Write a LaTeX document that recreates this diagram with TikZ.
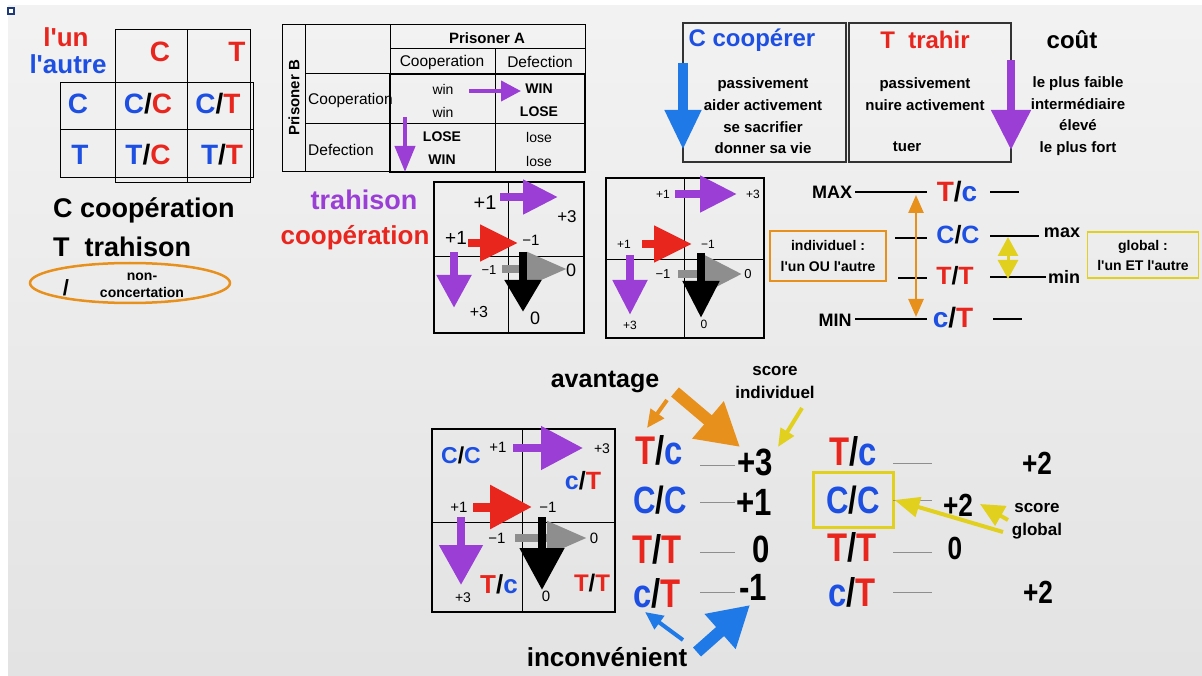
\documentclass[tikz,border=0pt]{standalone}
\usepackage{fontspec}
\setmainfont{Liberation Sans}
\newfontfamily\narrowsf{Liberation Sans}[FakeStretch=0.82]
\usetikzlibrary{arrows.meta}
\definecolor{tred}{HTML}{E8261E}
\definecolor{tblue}{HTML}{1D4FE2}
\definecolor{tpurple}{HTML}{9A3ED6}
\definecolor{torange}{HTML}{E8901C}
\definecolor{tyellow}{HTML}{E2D01E}
\definecolor{tgrey}{HTML}{8E8E8E}
\definecolor{tsky}{HTML}{1F7AE8}
\definecolor{tnavy}{HTML}{1F3A78}
\newcommand\fs[1]{\fontsize{#1}{#1}\selectfont}
\newcommand\duo[4]{\textcolor{#1}{#2}/\textcolor{#3}{#4}}
\newcommand\apos{\textquotesingle}
\tikzset{
 tx/.style={inner sep=0pt,font=\bfseries\fs{#1}},
 rg/.style={inner sep=0pt,font=\fs{#1}},
 nw/.style={inner sep=0pt,font=\narrowsf\bfseries\fs{#1}},
 txl/.style 2 args={inner sep=0pt,align=center,font=\bfseries\fontsize{#1}{#2}\selectfont},
 fat/.style n args={3}{line width=#1,-{Triangle[length=#2,width=#3]}},
 gridframe/.style={line width=2pt},
 gridline/.style={line width=0.8pt},
 bar/.style={line width=2.5pt},
 dash line/.style={tgrey,line width=1pt},
}
\begin{document}
\begin{tikzpicture}[x=1pt,y=-1pt]
\useasboundingbox (0,0) rectangle (1202,676);
%background
\shade[top color=black!5,bottom color=black!11] (8,6) rectangle (1202,676);
\draw[tnavy,line width=1.5pt,fill=white] (8,8) rectangle (14,14);

%l'un / l'autre table
\draw[line width=1pt] (115,30) rectangle (250,183) (60,83) rectangle (253,178) (60,130) -- (253,130) (187,30) -- (187,183);
\node[tx=26,tred] (un) at (66,37) {l\apos un};
\node[tx=26,tblue] (autre) at (68,64) {l\apos autre};
\node[tx=28,tred] (cA) at (160,52) {C};
\node[tx=28,tred] (tA) at (237,52) {T};
\node[tx=28,tblue] (cB) at (78,104) {C};
\node[tx=28] (cc) at (148,104) {\duo{tblue}{C}{tred}{C}};
\node[tx=28] (ct) at (218,104) {\duo{tblue}{C}{tred}{T}};
\node[tx=28,tblue] (tB) at (80,155) {T};
\node[tx=28] (tc) at (148,155) {\duo{tblue}{T}{tred}{C}};
\node[tx=28] (tt) at (222,155) {\duo{tblue}{T}{tred}{T}};
\node[tx=27,anchor=base west] (legc) at (53,218) {C coopération};
\node[tx=27,anchor=base west] (legt) at (53,257) {T\ \ trahison};
\draw[torange,line width=2.5pt] (130,283) ellipse [x radius=100,y radius=20];
\node[tx=22] (slash) at (66,288) {/};
\node[txl={14}{17}] (nonc) at (142,285) {non-\\concertation};

%prisoner table
\draw[line width=1pt] (282,25) rectangle (585,172) (305,25) -- (305,172) (390,25) -- (390,74)
 (390,49) -- (585,49) (495,49) -- (495,172) (305,74) -- (390,74) (305,124) -- (585,124);
\draw[line width=2pt] (390,74) rectangle (585,172);
\node[tx=15,rotate=90] (pb) at (294,98) {Prisoner B};
\node[tx=15] (pa) at (487,38) {Prisoner A};
\node[rg=15.5] (coopa) at (442,62) {Cooperation};
\node[rg=15.5] (defa) at (540,62) {Defection};
\node[rg=15.5,anchor=west] (coopb) at (308,100) {Cooperation};
\node[rg=15.5,anchor=west] (defb) at (308,150) {Defection};
\node[rg=14] (w1) at (443,89) {win};
\node[rg=14] (w2) at (443,112) {win};
\node[tx=14] (w3) at (539,89) {WIN};
\node[tx=14] (l1) at (539,112) {LOSE};
\node[tx=14] (l2) at (442,137) {LOSE};
\node[tx=14] (w4) at (442,160) {WIN};
\node[rg=14] (l3) at (539,137) {lose};
\node[rg=14] (l4) at (539,161) {lose};
\draw[tpurple,fat={4pt}{20pt}{20pt}] (469,91) -- (521,91);
\draw[tpurple,fat={4pt}{26pt}{20pt}] (405,117) -- (405,172);

%cooperer / trahir / cout
\draw[black!80,line width=1.2pt] (683,23) rectangle (846,162) (849,23) rectangle (1011,162);
\node[tx=24,tblue] (coop) at (752,40) {C coopérer};
\node[tx=24,tred] (trah) at (925,40) {T\ \ trahir};
\node[tx=24] (cout) at (1072,40) {coût};
\node[txl={15}{21.7}] (aide) at (763,116) {passivement\\aider activement\\se sacrifier\\donner sa vie};
\node[txl={15}{21.7}] (nuire) at (925,94) {passivement\\nuire activement};
\node[tx=15] (tuer) at (907,147) {tuer};
\node[txl={15}{21.7}] (niveau) at (1078,116) {le plus faible\\intermédiaire\\élevé\\le plus fort};
\draw[tsky,fat={10pt}{40pt}{34pt}] (683,63) -- (683,150);
\draw[tpurple,fat={8pt}{40pt}{38pt}] (1011,60) -- (1011,150);

%trahison / cooperation grids
\node[tx=27,tpurple] (trahi) at (364,200) {trahison};
\node[tx=26,tred] (coopi) at (355,238) {coopération};
\draw[gridframe] (434,182) rectangle (584,333);
\draw[gridline] (508,182) -- (508,333) (434,256) -- (584,256);
\draw[tpurple,fat={8pt}{35pt}{33pt}] (500,197) -- (558,197);
\draw[tred,fat={8pt}{38pt}{35pt}] (468,243) -- (518,243);
\draw[tgrey,fat={8pt}{40pt}{32pt}] (502,269) -- (567,269);
\draw[fat={8pt}{32pt}{35pt}] (523,252) -- (523,312);
\draw[tpurple,fat={8pt}{33pt}{33pt}] (454,252) -- (454,308);
\node[rg=20] (a1) at (485,203) {+1};
\node[rg=17] (a2) at (567,217) {+3};
\node[rg=19] (a3) at (456,238) {+1};
\node[rg=15] (a4) at (531,240) {−1};
\node[rg=13] (a5) at (489,270) {−1};
\node[rg=18] (a6) at (571,270) {0};
\node[rg=16] (a7) at (479,312) {+3};
\node[rg=18] (a8) at (535,318) {0};

\draw[gridframe] (606,178) rectangle (764,338);
\draw[gridline] (684,178) -- (684,338) (606,259) -- (764,259);
\draw[tpurple,fat={8pt}{37pt}{35pt}] (675,194) -- (737,194);
\draw[tred,fat={8pt}{38pt}{35pt}] (642,244) -- (692,244);
\draw[tgrey,fat={8pt}{37pt}{35pt}] (678,274) -- (742,274);
\draw[fat={8pt}{37pt}{35pt}] (701,253) -- (701,318);
\draw[tpurple,fat={8pt}{35pt}{33pt}] (630,255) -- (630,315);
\node[rg=12] (b1) at (663,194) {+1};
\node[rg=12] (b2) at (753,194) {+3};
\node[rg=12] (b3) at (624,244) {+1};
\node[rg=12] (b4) at (708,244) {−1};
\node[rg=13] (b5) at (663,274) {−1};
\node[rg=13] (b6) at (748,274) {0};
\node[rg=12] (b7) at (630,325) {+3};
\node[rg=12] (b8) at (704,324) {0};

%MAX / MIN
\node[tx=18] (maxi) at (832,192) {MAX};
\node[tx=28] (mtc) at (957,192) {\duo{tred}{T}{tblue}{c}};
\node[tx=25] (mcc) at (958,235) {\duo{tblue}{C}{tblue}{C}};
\node[tx=25] (mtt) at (955,276) {\duo{tred}{T}{tred}{T}};
\node[tx=18] (mini) at (835,320) {MIN};
\node[tx=28] (mct) at (953,318) {\duo{tblue}{c}{tred}{T}};
\node[tx=18] (gmax) at (1062,233) {max};
\node[tx=18] (gmin) at (1064,277) {min};
\draw[bar] (855,192) -- (927,192);
\draw[bar] (990,192) -- (1019,192);
\draw[bar] (895,238) -- (927,238) (990,236) -- (1039,236);
\draw[bar] (898,278) -- (927,278) (990,277) -- (1046,277);
\draw[bar] (855,319) -- (927,319);
\draw[bar] (993,319) -- (1022,319);
\draw[torange,line width=2.5pt,{Triangle[length=18pt,width=15pt]}-{Triangle[length=18pt,width=15pt]}] (916,195) -- (916,317);
\draw[tyellow,line width=3pt,{Triangle[length=19pt,width=20pt]}-{Triangle[length=19pt,width=20pt]}] (1008,237) -- (1008,279);
\node[txl={14}{21},draw=torange,line width=1.5pt,minimum width=116,minimum height=50] (indiv) at (828,256) {individuel :\\l\apos un OU l\apos autre};
\node[txl={14}{20},draw=tyellow,line width=1.5pt,minimum width=111,minimum height=46] (glob) at (1143,255) {global :\\l\apos un ET l\apos autre};

%bottom grid
\draw[gridframe] (432,429) rectangle (615,612);
\draw[gridline] (522,429) -- (522,612) (432,522) -- (615,522);
\draw[tpurple,fat={8pt}{42pt}{42pt}] (513,448) -- (583,448);
\draw[tred,fat={9pt}{42pt}{42pt}] (473,507) -- (532,507);
\draw[tgrey,fat={8pt}{40pt}{32pt}] (515,538) -- (587,538);
\draw[fat={8pt}{42pt}{43pt}] (542,517) -- (542,590);
\draw[tpurple,fat={8pt}{40pt}{42pt}] (461,517) -- (461,585);
\node[tx=23] (gcc) at (461,455) {\duo{tblue}{C}{tblue}{C}};
\node[rg=15] (c1) at (498,447) {+1};
\node[rg=14] (c2) at (602,449) {+3};
\node[tx=25] (gct) at (583,481) {\duo{tblue}{c}{tred}{T}};
\node[rg=15] (c3) at (459,507) {+1};
\node[rg=15] (c4) at (548,507) {−1};
\node[rg=15] (c5) at (497,538) {−1};
\node[rg=15] (c6) at (594,538) {0};
\node[rg=14] (c7) at (463,598) {+3};
\node[tx=26] (gtc) at (499,584) {\duo{tred}{T}{tblue}{c}};
\node[rg=15] (c8) at (546,596) {0};
\node[tx=24] (gtt) at (592,583) {\duo{tred}{T}{tred}{T}};

%individual scores
\node[tx=25] (avant) at (605,382) {avantage};
\node[txl={17}{23}] (sind) at (775,383) {score\\individuel};
\node[nw=40] (tc1) at (659,450) {\duo{tred}{T}{tblue}{c}};
\node[nw=38] (cc1) at (660,500) {\duo{tblue}{C}{tblue}{C}};
\node[nw=40] (tt1) at (657,549) {\duo{tred}{T}{tred}{T}};
\node[nw=40] (ct1) at (657,593) {\duo{tblue}{c}{tred}{T}};
\node[nw=38] (s1) at (755,462) {+3};
\node[nw=38] (s2) at (754,502) {+1};
\node[nw=38] (s3) at (761,549) {0};
\node[nw=38] (s4) at (753,587) {-1};
\draw[dash line] (700,465) -- (735,465) (700,502) -- (735,502) (700,552) -- (735,552) (700,592) -- (735,592);
\node[tx=26] (incon) at (607,657) {inconvénient};
\draw[torange,fat={4pt}{18pt}{16pt}] (667,400) -- (647,428);
\draw[torange,fat={12pt}{42pt}{46pt}] (675,392) -- (740,447);
\draw[tyellow,fat={4pt}{18pt}{15pt}] (802,408) -- (778,447);
\draw[tsky,fat={4pt}{18pt}{16pt}] (683,640) -- (645,612);
\draw[tsky,fat={12pt}{40pt}{44pt}] (697,652) -- (750,605);

%global scores
\node[nw=40] (tc2) at (853,451) {\duo{tred}{T}{tblue}{c}};
\node[nw=38,draw=tyellow,line width=3pt,minimum width=80,minimum height=55] (cc2) at (853,500) {\duo{tblue}{C}{tblue}{C}};
\node[nw=40] (tt2) at (852,547) {\duo{tred}{T}{tred}{T}};
\node[nw=40] (ct2) at (852,592) {\duo{tblue}{c}{tred}{T}};
\draw[dash line] (893,463) -- (932,463) (893,500) -- (932,500) (893,552) -- (932,552) (893,592) -- (932,592);
\node[nw=32] (g1) at (1037,463) {+2};
\node[nw=32] (g2) at (958,505) {+2};
\node[nw=32] (g3) at (955,548) {0};
\node[nw=32] (g4) at (1038,592) {+2};
\node[txl={17}{23}] (sglob) at (1037,521) {score\\global};
\draw[tyellow,fat={4pt}{24pt}{22pt}] (1008,520) -- (980,504);
\draw[tyellow,fat={4pt}{25pt}{20pt}] (1003,532) -- (cc2.east);
\end{tikzpicture}
\end{document}
